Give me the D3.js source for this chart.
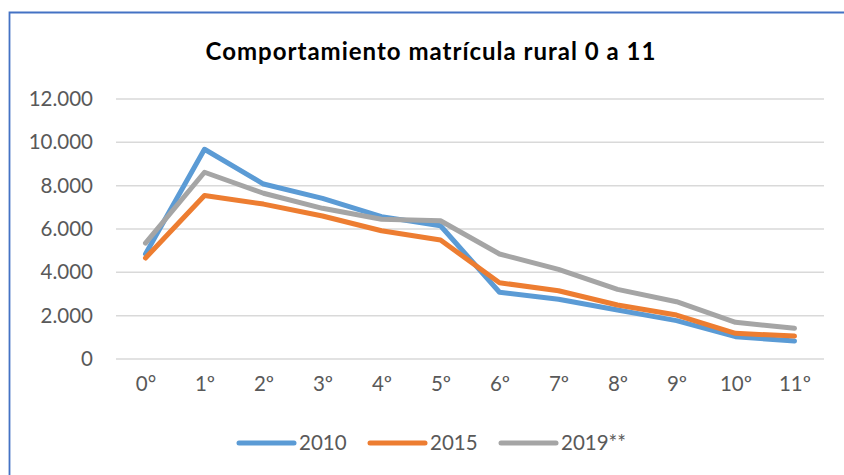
<!DOCTYPE html>
<html>
<head>
<meta charset="utf-8">
<script src="https://cdn.jsdelivr.net/npm/d3@7"></script>
<style>
  body { margin: 0; background: #fff; }
  svg { display: block; }
</style>
</head>
<body>
<div id="chart"></div>
<script>
// grades on the x axis
const grados = ["0°", "1º", "2º", "3º", "4º", "5º", "6º", "7º", "8º", "9º", "10º", "11º"];

// enrolment per grade
const m2010 = [4850, 9680, 8075, 7415, 6570, 6150, 3080, 2755, 2260, 1770, 1030, 830];
const m2015 = [4660, 7550, 7150, 6600, 5920, 5490, 3520, 3150, 2490, 2030, 1185, 1060];
const m2019 = [5350, 8620, 7650, 6955, 6450, 6380, 4845, 4140, 3215, 2645, 1695, 1415];

const seriesNames = ["2010", "2015", "2019**"];
const yTicks = [0, 2000, 4000, 6000, 8000, 10000, 12000];

const width = 844, height = 475;
const colors = ["#5B9BD5", "#ED7D31", "#A5A5A5"];
const font = "Lato, 'Open Sans', sans-serif";

const svg = d3.select("#chart")
  .append("svg")
  .attr("width", width)
  .attr("height", height);

// outer frame (left + top only, like the cropped original)
svg.append("path")
  .attr("d", `M9.5,${height} V12.5 H${width}`)
  .attr("fill", "none")
  .attr("stroke", "#4472C4")
  .attr("stroke-width", 1.8);

// title
svg.append("text")
  .attr("x", 431)
  .attr("y", 60)
  .attr("text-anchor", "middle")
  .style("font-family", font)
  .style("font-weight", "bold")
  .style("font-size", "24px")
  .style("letter-spacing", "1px")
  .style("fill", "#000")
  .text("Comportamiento matrícula rural 0 a 11");

const x = d3.scalePoint()
  .domain(grados)
  .range([116, 824])
  .padding(0.5);

const y = d3.scaleLinear()
  .domain([0, 12000])
  .range([359, 99]);

// gridlines
svg.append("g")
  .selectAll("line")
  .data(yTicks)
  .enter()
  .append("line")
  .attr("x1", 116)
  .attr("x2", 824)
  .attr("y1", d => y(d))
  .attr("y2", d => y(d))
  .attr("stroke", "#d9d9d9")
  .attr("stroke-width", 1.5);

// y axis labels
const fmt = d => d === 0 ? "0" : d3.format(",")(d).replace(/,/g, ".");
const yAxis = d3.axisLeft(y).tickValues(yTicks).tickFormat(fmt).tickSize(0).tickPadding(0);
const gy = svg.append("g")
  .attr("transform", "translate(93,0)")
  .call(yAxis);
gy.select(".domain").remove();
gy.selectAll("text")
  .style("font-family", font)
  .style("font-size", "20.5px")
  .style("fill", "#595959");

// x axis labels
const xAxis = d3.axisBottom(x).tickSize(0).tickPadding(0);
const gx = svg.append("g")
  .attr("transform", "translate(0,376)")
  .call(xAxis);
gx.select(".domain").remove();
gx.selectAll("text")
  .style("font-family", font)
  .style("font-size", "20.5px")
  .style("fill", "#595959");

// lines
const allSeries = [m2010, m2015, m2019];
const line = d3.line()
  .x((d, i) => x(grados[i]))
  .y(d => y(d));

svg.append("g")
  .selectAll("path")
  .data(allSeries)
  .enter()
  .append("path")
  .attr("d", line)
  .attr("fill", "none")
  .attr("stroke", (d, i) => colors[i])
  .attr("stroke-width", 5)
  .attr("stroke-linecap", "round")
  .attr("stroke-linejoin", "round");

// legend
const legendX = [239, 370, 501];
const legend = svg.append("g")
  .selectAll("g")
  .data(seriesNames)
  .enter()
  .append("g")
  .attr("transform", (d, i) => `translate(${legendX[i]},443)`);

legend.append("line")
  .attr("x1", 0)
  .attr("x2", 55)
  .attr("stroke", (d, i) => colors[i])
  .attr("stroke-width", 5)
  .attr("stroke-linecap", "round");

legend.append("text")
  .attr("x", 60)
  .attr("dy", "0.35em")
  .style("font-family", font)
  .style("font-size", "20.5px")
  .style("fill", "#595959")
  .text(d => d);
</script>
</body>
</html>
